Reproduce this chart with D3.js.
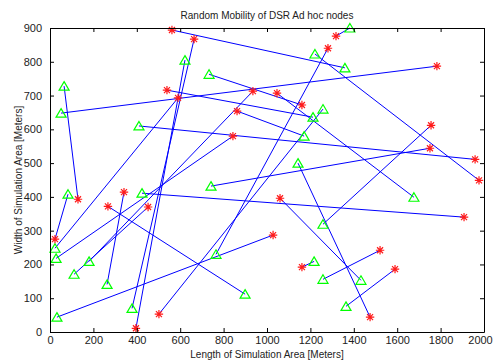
<!DOCTYPE html>
<html>
<head>
<meta charset="utf-8">
<script src="https://cdn.jsdelivr.net/npm/d3@7"></script>
<style>
  body { margin: 0; background: #fff; }
  text { font-family: "Liberation Sans", Arial, sans-serif; }
</style>
</head>
<body>
<svg id="chart" width="495" height="360"></svg>
<script>
'use strict';

// node start positions (green triangles)
const startX = [1359, 378, 1382, 765, 51, 1212, 23, 180, 1677, 733, 1171, 28, 1258, 742, 410,
                1221, 65, 263, 111, 899, 83, 1258, 622, 1433, 424, 32, 1258, 1217, 1364, 1143];
const startY = [782, 70, 900, 230, 648, 636, 248, 209, 399, 763, 580, 218, 319, 432, 610,
                823, 728, 141, 171, 112, 408, 660, 805, 153, 411, 44, 156, 209, 76, 500];
// node end positions (red stars)
const endX = [562, 664, 1318, 1281, 1783, 539, 590, 935, 1046, 1161, 862, 843, 1756, 1751, 1959,
              1977, 129, 341, 452, 267, 23, 502, 396, 1060, 1908, 1028, 1521, 1161, 1590, 1475];
const endY = [894, 867, 876, 840, 787, 716, 693, 713, 707, 672, 654, 580, 612, 544, 511,
              449, 393, 414, 370, 372, 275, 53, 11, 396, 340, 287, 242, 192, 186, 44];

const xTicks = d3.range(0, 2001, 200);
const yTicks = d3.range(0, 901, 100);

(function () {
    const margin = {top: 28, right: 11, bottom: 28, left: 50};
    const width = 495 - margin.left - margin.right;
    const height = 360 - margin.top - margin.bottom;

    const svg = d3.select("#chart");
    const g = svg.append("g")
        .attr("transform", "translate(" + margin.left + "," + margin.top + ")");

    const x = d3.scaleLinear().domain([0, 2000]).range([0, width]);
    const y = d3.scaleLinear().domain([0, 900]).range([height, 0]);

    const nodes = startX.map(function (d, i) {
        return {sx: d, sy: startY[i], ex: endX[i], ey: endY[i]};
    });

    // movement lines
    g.selectAll(".move")
        .data(nodes)
        .enter()
        .append("line")
            .attr("class", "move")
            .attr("x1", d => x(d.sx))
            .attr("y1", d => y(d.sy))
            .attr("x2", d => x(d.ex))
            .attr("y2", d => y(d.ey))
            .attr("stroke", "#0000ff")
            .attr("stroke-width", 1);

    // green triangles
    g.selectAll(".start")
        .data(nodes)
        .enter()
        .append("path")
            .attr("class", "start")
            .attr("transform", d => "translate(" + x(d.sx) + "," + y(d.sy) + ")")
            .attr("d", "M0,-4.5L5,4L-5,4Z")
            .attr("fill", "none")
            .attr("stroke", "#00ff00")
            .attr("stroke-width", 1.2);

    // red asterisks
    const r = 4.2, q = 3;
    g.selectAll(".end")
        .data(nodes)
        .enter()
        .append("path")
            .attr("class", "end")
            .attr("transform", d => "translate(" + x(d.ex) + "," + y(d.ey) + ")")
            .attr("d", "M" + (-r) + ",0H" + r + "M0," + (-r) + "V" + r +
                       "M" + (-q) + "," + (-q) + "L" + q + "," + q +
                       "M" + (-q) + "," + q + "L" + q + "," + (-q))
            .attr("stroke", "#ff1a1a")
            .attr("stroke-width", 1.2);

    // axes (ticks inward, box all round)
    const fmt = d3.format("d");
    const bottom = g.append("g")
        .attr("transform", "translate(0," + height + ")")
        .call(d3.axisBottom(x).tickValues(xTicks).tickFormat(fmt)
            .tickSizeInner(-4).tickSizeOuter(0).tickPadding(4));
    g.append("g")
        .call(d3.axisLeft(y).tickValues(yTicks).tickFormat(fmt)
            .tickSizeInner(-4).tickSizeOuter(0).tickPadding(8));
    g.append("g")
        .call(d3.axisTop(x).tickValues(xTicks).tickSizeInner(-4).tickSizeOuter(0).tickFormat(""));
    g.append("g")
        .attr("transform", "translate(" + width + ",0)")
        .call(d3.axisRight(y).tickValues(yTicks).tickSizeInner(-4).tickSizeOuter(0).tickFormat(""));

    g.selectAll(".tick text")
        .attr("font-size", 11)
        .attr("font-family", "Liberation Sans, Arial, sans-serif")
        .attr("fill", "#222");
    g.selectAll(".domain, .tick line").attr("stroke", "#000");
    // keep the last label inside the window
    bottom.selectAll(".tick text").filter(d => d === 2000).attr("dx", -4);

    // title and labels
    svg.append("text")
        .attr("x", margin.left + width / 2)
        .attr("y", 19)
        .attr("text-anchor", "middle")
        .attr("font-size", 10)
        .attr("fill", "#222")
        .text("Random Mobility of DSR Ad hoc nodes");
    svg.append("text")
        .attr("x", margin.left + width / 2)
        .attr("y", 358)
        .attr("text-anchor", "middle")
        .attr("font-size", 10)
        .attr("fill", "#222")
        .text("Length of Simulation Area [Meters]");
    svg.append("text")
        .attr("transform", "translate(22," + (margin.top + height / 2) + ") rotate(-90)")
        .attr("text-anchor", "middle")
        .attr("font-size", 10)
        .attr("fill", "#222")
        .text("Width of Simulation Area [Meters]");
})();
</script>
</body>
</html>
